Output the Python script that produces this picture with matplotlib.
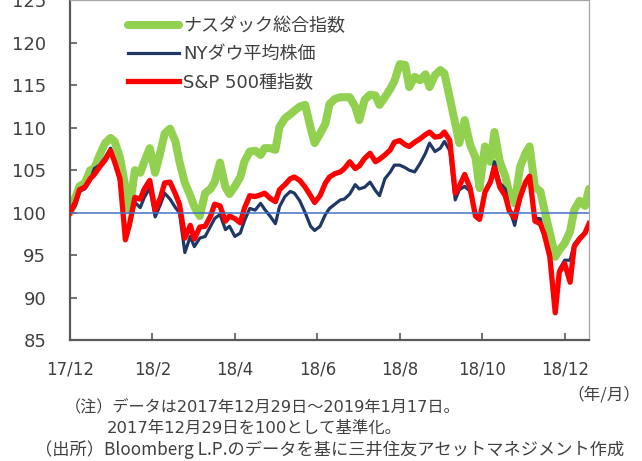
import matplotlib
matplotlib.use('Agg')
import matplotlib.pyplot as plt
import pandas as pd

# days since 2017-12-29 (index = 100 at start)
days = [0, 4, 7, 11, 15, 18, 22, 26, 30, 33, 37, 41, 44, 48, 52, 55, 59, 63, 67, 70,
        74, 78, 81, 85, 89, 92, 96, 100, 104, 107, 111, 115, 118, 122, 126, 129, 133, 137, 141, 144,
        148, 152, 155, 159, 163, 166, 170, 174, 178, 181, 185, 189, 192, 196, 200, 203, 207, 211, 214, 218,
        222, 226, 229, 233, 237, 240, 244, 248, 251, 255, 259, 263, 266, 270, 274, 277, 281, 285, 288, 292,
        296, 300, 303, 307, 311, 314, 318, 322, 325, 329, 333, 337, 340, 344, 348, 351, 355, 359, 362, 366,
        370, 373, 377, 381, 384]

nasdaq = [100.0, 101.8, 103.1, 103.5, 105.0, 105.2, 106.8, 108.2, 108.8, 108.4,
          106.5, 103.0, 100.3, 105.0, 104.7, 106.0, 107.6, 104.7, 107.2, 109.3,
          109.9, 108.4, 106.0, 103.5, 102.0, 100.7, 99.6, 102.3, 102.8, 103.6,
          105.9, 103.0, 102.2, 103.1, 104.2, 106.0, 107.2, 107.3, 106.8, 107.6,
          107.6, 107.4, 110.1, 111.1, 111.6, 112.0, 112.5, 112.7, 110.0, 108.2,
          109.3, 110.5, 112.8, 113.4, 113.6, 113.6, 113.6, 112.5, 110.9, 113.3,
          113.9, 113.8, 112.7, 113.6, 114.6, 115.5, 117.5, 117.4, 114.8, 116.0,
          115.6, 116.3, 114.8, 116.2, 116.8, 116.4, 113.5, 110.5, 108.2, 110.9,
          108.0, 106.5, 102.9, 107.8, 106.0, 109.5, 106.0, 104.3, 102.3, 101.1,
          105.4, 107.0, 107.8, 103.0, 102.5, 100.3, 97.6, 94.8, 95.6, 96.4,
          97.8, 100.3, 101.4, 100.8, 102.8]

dow = [100.0, 100.8, 102.5, 102.8, 103.8, 105.2, 105.6, 106.5, 107.6, 106.2,
       103.5, 98.0, 98.3, 101.2, 100.6, 101.8, 102.9, 99.5, 101.0, 102.3,
       101.6, 100.6, 100.0, 95.3, 97.2, 96.0, 97.0, 97.2, 98.4, 99.3,
       99.8, 98.0, 98.4, 97.2, 97.6, 99.0, 100.5, 100.3, 101.1, 100.4,
       99.6, 98.7, 100.7, 101.9, 102.5, 102.3, 101.4, 100.0, 98.4, 97.9,
       98.4, 99.8, 100.5, 101.0, 101.5, 101.6, 102.2, 103.3, 102.8, 103.0,
       103.6, 102.6, 102.0, 104.0, 104.8, 105.6, 105.6, 105.3, 105.0, 104.8,
       105.8, 107.0, 108.2, 107.2, 107.6, 108.4, 107.3, 101.5, 102.7, 103.1,
       102.5, 99.8, 99.3, 102.6, 103.8, 106.0, 103.5, 102.8, 100.5, 98.5,
       101.6, 103.4, 104.0, 99.3, 99.3, 97.0, 95.3, 89.0, 93.3, 94.4,
       94.4, 96.3, 97.1, 97.6, 98.6]

sp500 = [100.0, 101.2, 102.7, 103.0, 104.0, 104.5, 105.4, 106.2, 107.3, 106.0,
         104.0, 96.8, 98.6, 101.8, 101.6, 102.8, 103.8, 100.3, 101.8, 103.5,
         103.6, 102.2, 101.0, 97.0, 98.5, 96.9, 98.3, 98.4, 99.6, 101.0,
         100.8, 99.0, 99.6, 99.3, 98.8, 100.5, 102.0, 101.9, 102.1, 102.3,
         101.7, 101.3, 102.7, 103.3, 104.0, 104.2, 103.8, 103.0, 102.0, 101.2,
         102.0, 103.5, 104.2, 104.6, 104.8, 105.2, 106.0, 105.2, 105.5, 106.4,
         107.0, 106.0, 106.3, 106.8, 107.4, 108.3, 108.5, 108.0, 107.8, 108.3,
         108.7, 109.2, 109.5, 108.9, 109.0, 109.5, 108.5, 102.3, 103.1, 104.5,
         102.9, 99.6, 99.2, 102.4, 103.6, 105.3, 103.0, 102.0, 100.2, 99.4,
         101.8, 103.6, 104.3, 99.0, 98.7, 97.4, 94.8, 88.2, 93.0, 94.0,
         91.8, 96.0, 96.9, 97.6, 98.7]

labels = ['ナスダック総合指数', 'NYダウ平均株価', 'S&P 500種指数']
tick_labels = ['17/12', '18/2', '18/4', '18/6', '18/8', '18/10', '18/12']
tick_days = [0, 61, 122, 183, 244, 305, 366]

txt = '#404040'
jp = ['Noto Sans CJK JP', 'DejaVu Sans']
mix = ['DejaVu Sans', 'Noto Sans CJK JP']

fig = plt.figure(figsize=(6.42, 4.61), dpi=100)
ax = fig.add_axes([0.109, 0.2625, 0.8085, 0.7365])

ax.plot(days, nasdaq, color='#92D050', linewidth=5.8, solid_capstyle='round', label=labels[0], zorder=2)
ax.plot(days, dow, color='#1F3864', linewidth=2.3, label=labels[1], zorder=3)
ax.plot(days, sp500, color='#FF0000', linewidth=3.8, label=labels[2], zorder=4)
ax.axhline(100, color='#4472C4', linewidth=1.1, zorder=5)

ax.set_xlim(0, 384)
ax.set_ylim(85, 125)
ax.set_yticks(range(85, 126, 5))
ax.set_xticks(tick_days)
ax.set_xticklabels(tick_labels)

ax.tick_params(axis='both', direction='in', length=5, width=1.2, color='#595959',
               labelcolor=txt, labelsize=13)
ax.tick_params(axis='x', pad=15, labelsize=12)
ax.tick_params(axis='y', pad=17)
for lab in ax.get_xticklabels() + ax.get_yticklabels():
    lab.set_family('DejaVu Sans')

for s in ['left', 'bottom']:
    ax.spines[s].set_color('#595959')
    ax.spines[s].set_linewidth(1.6)
for s in ['top', 'right']:
    ax.spines[s].set_color('#A6A6A6')
    ax.spines[s].set_linewidth(0.9)

leg = ax.legend(loc='upper left', bbox_to_anchor=(0.112, 0.95), frameon=False,
                borderpad=0, borderaxespad=0, handlelength=2.8, handletextpad=0.25,
                labelspacing=0.55, prop={'family': mix, 'size': 13})
for t in leg.get_texts():
    t.set_color(txt)

fig.text(0.998, 0.143, '（年/月）', ha='right', va='center', fontsize=12, color=txt, family=jp)
fig.text(0.101, 0.117, '（注）データは2017年12月29日～2019年1月17日。', ha='left', va='center',
         fontsize=11.6, color=txt, family=mix)
fig.text(0.1667, 0.0716, '2017年12月29日を100として基準化。', ha='left', va='center',
         fontsize=11.8, color=txt, family=mix)
fig.text(0.054, 0.024, '（出所）Bloomberg L.P.のデータを基に三井住友アセットマネジメント作成', ha='left',
         va='center', fontsize=12.4, color=txt, family=jp)

fig.savefig('out.png', dpi=100)
